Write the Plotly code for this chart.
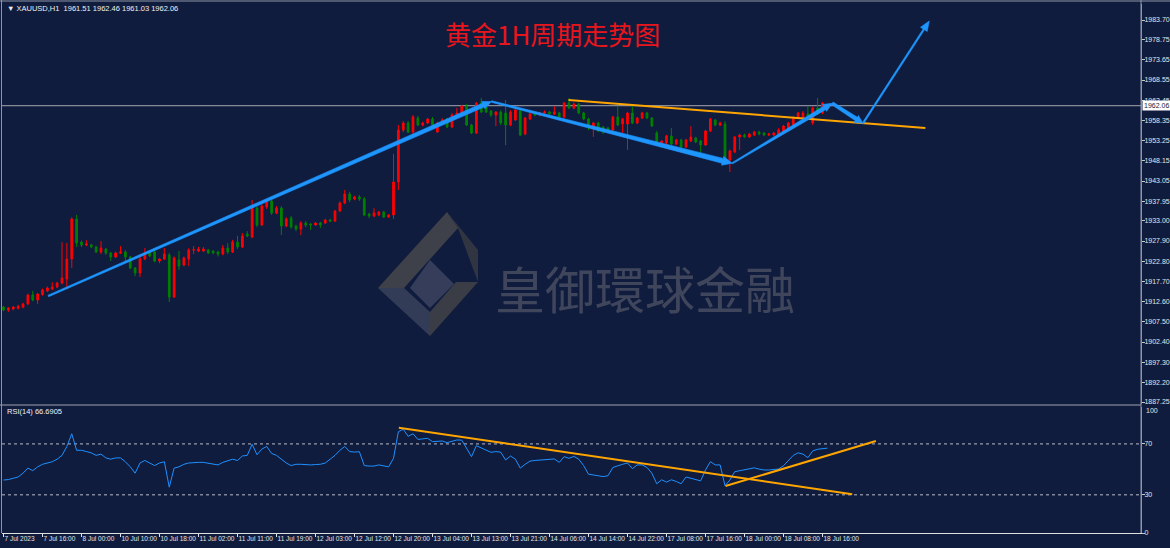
import math
import plotly.graph_objects as go

W, H = 1170, 548
BG = "#101c3e"

# ---------------- data ----------------
tick_labels = ["7 Jul 2023", "7 Jul 16:00", "8 Jul 00:00", "10 Jul 10:00", "10 Jul 18:00",
               "11 Jul 02:00", "11 Jul 11:00", "11 Jul 19:00", "12 Jul 03:00", "12 Jul 12:00",
               "12 Jul 20:00", "13 Jul 04:00", "13 Jul 13:00", "13 Jul 21:00", "14 Jul 06:00",
               "14 Jul 14:00", "14 Jul 22:00", "17 Jul 08:00", "17 Jul 16:00", "18 Jul 00:00",
               "18 Jul 08:00", "18 Jul 16:00"]

price_ticks = [1983.70, 1978.75, 1973.65, 1968.55, 1963.45, 1958.35, 1953.25, 1948.15,
               1943.05, 1937.95, 1933.00, 1927.90, 1922.80, 1917.70, 1912.60, 1907.50,
               1902.40, 1897.30, 1892.20, 1887.25]

bar_open = [1911.23, 1910.48, 1910.70, 1910.90, 1911.20, 1912.00, 1914.26, 1913.00, 1914.40, 1915.30,
            1915.80, 1916.30, 1917.29, 1918.30, 1923.35, 1933.45, 1927.65, 1926.90, 1926.89, 1926.38,
            1925.12, 1925.88, 1924.87, 1923.86, 1924.87, 1925.12, 1923.86, 1921.08, 1919.82, 1923.35,
            1924.87, 1925.12, 1922.85, 1923.35, 1924.36, 1913.76, 1923.10, 1921.84, 1923.35, 1925.63,
            1925.37, 1925.37, 1925.63, 1925.37, 1925.12, 1924.62, 1926.13, 1925.12, 1927.65, 1926.38,
            1929.67, 1928.91, 1936.23, 1931.94, 1936.48, 1938.00, 1934.97, 1936.23, 1931.69, 1933.71,
            1931.69, 1930.93, 1932.44, 1932.19, 1931.94, 1932.44, 1932.44, 1933.20, 1932.95, 1935.47,
            1937.49, 1939.77, 1938.51, 1939.01, 1938.51, 1934.72, 1934.21, 1934.46, 1935.22, 1933.96,
            1934.46, 1942.80, 1955.93, 1957.69, 1955.42, 1958.96, 1957.19, 1957.69, 1958.70, 1955.42,
            1957.69, 1958.70, 1956.68, 1959.21, 1960.22, 1961.98, 1957.19, 1955.17, 1962.74, 1961.73,
            1960.72, 1959.71, 1960.47, 1960.22, 1957.19, 1958.45, 1960.72, 1954.92, 1958.70, 1960.22,
            1959.71, 1960.22, 1960.47, 1959.97, 1960.22, 1959.21, 1962.74, 1961.48, 1962.49, 1960.22,
            1958.70, 1956.43, 1957.69, 1956.68, 1956.43, 1955.93, 1959.21, 1957.44, 1957.44, 1960.22,
            1957.69, 1958.96, 1960.22, 1958.96, 1955.17, 1952.65, 1952.65, 1954.41, 1952.39, 1953.40,
            1951.63, 1953.15, 1953.91, 1953.15, 1952.14, 1955.67, 1958.45, 1957.19, 1957.44, 1948.35,
            1950.37, 1954.16, 1954.66, 1954.16, 1954.66, 1955.42, 1955.17, 1954.66, 1954.66, 1954.92,
            1955.17, 1955.93, 1957.19, 1958.96, 1959.21, 1959.97, 1957.69, 1961.48, 1960.22, 1961.51]

bar_high = [1911.50, 1911.20, 1911.50, 1911.80, 1912.30, 1914.60, 1915.30, 1914.80, 1915.90, 1916.40,
            1917.50, 1917.60, 1927.60, 1927.40, 1933.90, 1934.50, 1928.00, 1928.10, 1927.20, 1926.70,
            1927.90, 1926.10, 1925.10, 1925.20, 1926.60, 1925.60, 1924.10, 1921.30, 1924.60, 1926.10,
            1925.10, 1925.90, 1923.60, 1926.10, 1924.90, 1924.00, 1925.40, 1924.00, 1926.10, 1926.60,
            1926.40, 1926.40, 1925.90, 1925.60, 1925.40, 1926.90, 1927.40, 1928.20, 1929.20, 1929.90,
            1930.40, 1938.25, 1936.70, 1937.20, 1938.50, 1938.80, 1936.70, 1936.70, 1933.90, 1934.20,
            1932.00, 1932.90, 1932.90, 1932.40, 1932.70, 1932.70, 1933.50, 1933.50, 1935.70, 1937.90,
            1940.80, 1940.30, 1939.30, 1939.50, 1939.00, 1935.00, 1936.20, 1935.50, 1935.50, 1934.70,
            1949.90, 1957.20, 1958.20, 1958.20, 1959.70, 1959.50, 1958.00, 1959.00, 1959.20, 1958.00,
            1958.90, 1959.00, 1960.20, 1961.50, 1962.30, 1962.50, 1957.50, 1963.00, 1964.00, 1962.00,
            1961.00, 1960.70, 1960.90, 1963.50, 1960.90, 1961.50, 1961.00, 1959.20, 1960.30, 1960.50,
            1960.50, 1960.90, 1960.70, 1961.90, 1960.50, 1963.00, 1964.00, 1962.80, 1962.80, 1960.50,
            1959.00, 1958.00, 1958.00, 1956.90, 1956.70, 1959.50, 1961.98, 1959.00, 1960.50, 1961.98,
            1959.20, 1960.50, 1960.50, 1959.20, 1955.70, 1953.40, 1954.70, 1956.40, 1953.70, 1953.70,
            1953.70, 1956.90, 1954.20, 1953.40, 1956.00, 1959.00, 1958.70, 1958.00, 1958.20, 1951.00,
            1954.40, 1955.00, 1955.00, 1955.20, 1955.70, 1955.70, 1955.40, 1955.20, 1955.40, 1956.40,
            1957.20, 1958.00, 1959.50, 1960.50, 1960.70, 1962.00, 1961.80, 1964.00, 1963.00, 1962.46]

bar_low = [1910.20, 1910.00, 1910.40, 1910.60, 1910.90, 1911.70, 1912.70, 1912.00, 1914.10, 1915.00,
           1915.50, 1916.00, 1917.00, 1915.80, 1921.10, 1926.40, 1926.40, 1926.60, 1926.10, 1924.90,
           1924.60, 1924.40, 1922.85, 1923.60, 1924.60, 1922.60, 1920.80, 1919.00, 1918.80, 1923.10,
           1923.80, 1922.50, 1922.30, 1923.10, 1912.50, 1913.50, 1920.60, 1921.50, 1921.60, 1924.60,
           1925.10, 1925.10, 1924.60, 1924.60, 1924.00, 1924.30, 1924.60, 1924.90, 1925.90, 1926.10,
           1928.90, 1928.60, 1931.40, 1931.70, 1936.00, 1934.50, 1934.70, 1929.40, 1931.40, 1931.00,
           1930.40, 1929.40, 1931.40, 1930.70, 1931.70, 1931.20, 1932.20, 1932.70, 1932.70, 1935.20,
           1937.20, 1937.70, 1938.20, 1938.00, 1934.20, 1933.70, 1933.90, 1934.20, 1933.70, 1933.70,
           1933.45, 1940.78, 1955.40, 1955.20, 1954.90, 1956.90, 1956.90, 1957.40, 1956.90, 1955.20,
           1957.20, 1956.40, 1956.40, 1958.90, 1959.90, 1956.90, 1954.90, 1954.90, 1960.20, 1960.20,
           1959.20, 1956.90, 1957.20, 1952.10, 1956.90, 1958.20, 1954.40, 1954.60, 1958.40, 1959.40,
           1959.40, 1959.90, 1959.70, 1959.70, 1958.90, 1958.90, 1961.20, 1961.20, 1959.90, 1958.40,
           1955.90, 1954.20, 1955.40, 1954.90, 1955.40, 1955.70, 1956.90, 1955.20, 1950.90, 1957.40,
           1957.40, 1958.70, 1958.70, 1956.70, 1952.40, 1952.40, 1951.60, 1952.10, 1952.10, 1951.40,
           1951.40, 1952.90, 1952.60, 1950.10, 1951.90, 1955.40, 1956.90, 1956.90, 1948.10, 1945.30,
           1950.10, 1950.90, 1953.90, 1953.90, 1954.40, 1954.60, 1954.40, 1954.40, 1954.40, 1954.70,
           1954.90, 1955.70, 1956.90, 1958.70, 1958.90, 1958.90, 1957.20, 1959.70, 1959.90, 1961.03]

bar_close = [1910.48, 1910.98, 1911.23, 1911.40, 1912.00, 1914.26, 1913.00, 1914.51, 1915.52, 1916.03,
             1916.28, 1917.29, 1918.56, 1923.35, 1933.45, 1927.39, 1926.89, 1927.14, 1926.38, 1925.12,
             1926.13, 1924.87, 1923.86, 1924.87, 1925.12, 1923.86, 1921.08, 1919.82, 1923.35, 1924.87,
             1924.11, 1922.85, 1923.35, 1924.62, 1913.76, 1923.61, 1921.59, 1923.61, 1925.63, 1925.66,
             1925.88, 1925.88, 1924.87, 1924.87, 1924.62, 1926.13, 1925.12, 1927.65, 1926.38, 1929.16,
             1929.16, 1936.48, 1931.94, 1936.74, 1937.75, 1934.97, 1936.23, 1931.69, 1933.45, 1931.43,
             1930.93, 1932.44, 1931.94, 1931.94, 1932.44, 1931.94, 1933.20, 1932.95, 1935.47, 1937.49,
             1939.77, 1938.25, 1939.01, 1938.51, 1934.46, 1934.21, 1934.97, 1935.22, 1933.96, 1934.46,
             1942.80, 1955.93, 1957.69, 1955.42, 1959.21, 1957.19, 1957.69, 1958.70, 1957.19, 1957.69,
             1958.45, 1956.68, 1959.71, 1960.22, 1961.98, 1957.19, 1955.17, 1962.74, 1960.47, 1960.47,
             1959.71, 1960.47, 1957.69, 1957.19, 1960.47, 1960.98, 1954.66, 1958.96, 1959.97, 1959.71,
             1960.22, 1960.47, 1960.00, 1960.47, 1959.21, 1962.74, 1961.48, 1962.49, 1960.22, 1958.70,
             1957.19, 1957.69, 1955.67, 1955.42, 1955.93, 1959.21, 1957.19, 1958.70, 1960.22, 1957.69,
             1958.96, 1960.22, 1958.96, 1956.94, 1952.65, 1953.15, 1954.41, 1952.39, 1953.40, 1951.63,
             1953.40, 1954.16, 1952.90, 1952.14, 1955.67, 1958.70, 1957.19, 1957.69, 1948.35, 1950.63,
             1954.16, 1954.66, 1954.20, 1954.92, 1955.42, 1954.92, 1954.66, 1954.92, 1955.17, 1955.93,
             1956.94, 1957.69, 1958.96, 1960.22, 1960.22, 1959.21, 1961.48, 1959.97, 1962.74, 1962.06]

rsi_values = [41.6, 42.0, 43.0, 44.0, 47.0, 51.0, 49.0, 52.0, 54.0, 55.0,
              56.0, 58.0, 61.0, 68.0, 78.0, 65.0, 65.0, 64.0, 63.0, 61.0,
              62.0, 59.0, 58.0, 59.0, 59.0, 56.0, 52.0, 47.0, 55.0, 57.0,
              55.0, 53.0, 55.0, 56.0, 36.0, 51.0, 52.0, 54.0, 55.0, 55.5,
              55.5, 55.5, 54.8, 54.0, 53.5, 55.5, 57.0, 58.0, 57.0, 60.5,
              61.0, 69.7, 61.5, 66.0, 68.0, 62.5, 61.0, 58.0, 55.0, 53.0,
              54.0, 54.0, 53.5, 53.5, 53.8, 54.0, 55.0, 58.0, 61.0, 65.0,
              68.0, 64.0, 63.6, 63.9, 53.0, 52.6, 52.6, 53.5, 53.0, 52.0,
              58.7, 79.6, 81.5, 76.0, 78.0, 73.5, 74.0, 74.4, 71.8, 72.0,
              72.3, 71.0, 72.0, 73.1, 73.0, 66.5, 60.0, 68.6, 67.0, 65.5,
              63.4, 64.0, 63.5, 57.4, 60.5, 58.0, 51.0, 54.0, 56.5, 57.0,
              57.2, 57.5, 57.8, 58.2, 55.5, 60.0, 58.7, 60.2, 58.0, 53.0,
              46.2, 45.8, 45.0, 44.3, 45.0, 51.5, 53.0, 54.0, 55.0, 50.6,
              53.5, 53.5, 51.5, 47.0, 38.7, 41.8, 40.0, 41.8, 40.5, 38.7,
              44.0, 43.0, 42.0, 41.0, 49.5, 56.1, 53.5, 53.5, 37.2, 41.6,
              48.2, 48.8, 49.5, 50.3, 51.2, 50.2, 49.5, 49.5, 49.8, 50.3,
              52.9, 57.0, 61.0, 63.0, 62.0, 59.2, 64.5, 65.8, 66.2, 66.69]

last_price = 1962.06
rsi_levels = [70, 30]

# user-drawn objects (bar index, price)
blue_arrows = [  # (bar0, price0, bar1, price1, width0_px, width1_px, head_len_px, head_half_px)
    (9.2, 1914.02, 100.1, 1963.12, 1.6, 4.2, 9, 4.0),
    (100.1, 1963.12, 149.5, 1947.52, 1.6, 5.0, 10, 4.5),
    (149.5, 1947.52, 170.0, 1962.67, 1.3, 4.0, 9, 4.0),
    (170.0, 1962.67, 176.3, 1957.62, 3.0, 4.0, 8, 4.0),
    (176.3, 1957.62, 189.9, 1983.45, 1.6, 1.6, 10, 4.0),
]
orange_price_line = (115.9, 1963.50, 189.1, 1956.43)
orange_rsi_lines = [(81.1, 82.75, 174.1, 30.4), (148.1, 36.9, 178.95, 72.3)]

# ---------------- geometry ----------------
PX_L, PX_R = 2, 1141
MAIN_T, MAIN_B = 4, 404
RSI_T, RSI_B = 407, 533
BAR_PX = 4.875
X0_PX = 3.5
x_lo = (PX_L - X0_PX) / BAR_PX
x_hi = (PX_R - X0_PX) / BAR_PX
P_TOP_Y, P_BOT_Y = 20, 402
sy = (P_BOT_Y - P_TOP_Y) / (price_ticks[0] - price_ticks[-1])
y_hi = price_ticks[0] + (P_TOP_Y - MAIN_T) / sy
y_lo = price_ticks[-1] - (MAIN_B - P_BOT_Y) / sy
RSI_PX = 1.2725
rsi_hi = (RSI_B - RSI_T) / RSI_PX


def to_px(b, p):
    return PX_L + (b - x_lo) * BAR_PX, MAIN_T + (y_hi - p) * sy


def to_data(px, py):
    return x_lo + (px - PX_L) / BAR_PX, y_hi - (py - MAIN_T) / sy


def arrow_poly(b0, p0, b1, p1, w0, w1, hl, hw):
    x0, y0 = to_px(b0, p0)
    x1, y1 = to_px(b1, p1)
    dx, dy = x1 - x0, y1 - y0
    L = math.hypot(dx, dy)
    ux, uy = dx / L, dy / L
    nx, ny = -uy, ux
    bx, by = x1 - ux * hl, y1 - uy * hl
    pts = [(x0 + nx * w0 / 2, y0 + ny * w0 / 2), (bx + nx * w1 / 2, by + ny * w1 / 2),
           (bx + nx * hw, by + ny * hw), (x1, y1), (bx - nx * hw, by - ny * hw),
           (bx - nx * w1 / 2, by - ny * w1 / 2), (x0 - nx * w0 / 2, y0 - ny * w0 / 2)]
    d = [to_data(a, b) for a, b in pts]
    d.append(d[0])
    return [q[0] for q in d], [q[1] for q in d]


bars = list(range(len(bar_close)))

fig = go.Figure()

fig.add_trace(go.Candlestick(
    x=bars, open=bar_open, high=bar_high, low=bar_low, close=bar_close,
    increasing=dict(line=dict(color="#ff0000", width=1), fillcolor="#ff0000"),
    decreasing=dict(line=dict(color="#008000", width=1), fillcolor="#008000"),
    whiskerwidth=0, xaxis="x", yaxis="y", hoverinfo="skip", showlegend=False))

# orange resistance line on price
fig.add_trace(go.Scatter(x=[orange_price_line[0], orange_price_line[2]],
                         y=[orange_price_line[1], orange_price_line[3]],
                         mode="lines", line=dict(color="#ffa500", width=2),
                         hoverinfo="skip", showlegend=False))

for a in blue_arrows:
    xs, ys = arrow_poly(*a)
    fig.add_trace(go.Scatter(x=xs, y=ys, mode="lines", fill="toself",
                             fillcolor="#1e96ff", line=dict(color="#1e96ff", width=0.6),
                             hoverinfo="skip", showlegend=False))

fig.add_trace(go.Scatter(x=bars, y=rsi_values, mode="lines", xaxis="x", yaxis="y2",
                         line=dict(color="#1e90ff", width=1), hoverinfo="skip", showlegend=False))

for l in orange_rsi_lines:
    fig.add_trace(go.Scatter(x=[l[0], l[2]], y=[l[1], l[3]], mode="lines", yaxis="y2",
                             line=dict(color="#ffa500", width=2), hoverinfo="skip",
                             showlegend=False))

AX_FONT = dict(family="Liberation Sans Narrow, Liberation Sans, Arial", size=6.5, color="#e4e4e4")
Y_FONT = dict(family="Liberation Sans, Arial", size=7, color="#e4e4e4")

fig.update_layout(
    width=W, height=H, autosize=False,
    margin=dict(l=0, r=0, t=0, b=0, pad=0),
    paper_bgcolor=BG, plot_bgcolor=BG,
    template="none", showlegend=False, boxgap=0.5,
    xaxis=dict(domain=[PX_L / W, PX_R / W], range=[x_lo, x_hi], anchor="y2",
               showgrid=False, zeroline=False, showline=True, linecolor="#e0e0e0", linewidth=1,
               ticks="outside", ticklen=3, tickcolor="#e0e0e0", tickangle=0,
               tickvals=[i * 8 for i in range(len(tick_labels))], ticktext=tick_labels,
               tickfont=AX_FONT, ticklabelposition="outside right", ticklabelstandoff=-1,
               rangeslider=dict(visible=False), automargin=False, fixedrange=True),
    yaxis=dict(domain=[(H - MAIN_B) / H, (H - MAIN_T) / H], range=[y_lo, y_hi],
               side="right", anchor="x", showgrid=False, zeroline=False,
               showline=True, linecolor="#9096a8", ticks="outside", ticklen=3,
               tickcolor="#c8c8c8", tickvals=price_ticks, ticklabelstandoff=-2,
               ticktext=["%.2f" % v for v in price_ticks], tickfont=Y_FONT,
               automargin=False),
    yaxis2=dict(domain=[(H - RSI_B) / H, (H - RSI_T) / H], range=[0, rsi_hi],
                side="right", anchor="x", showgrid=False, zeroline=False,
                showline=True, linecolor="#9096a8", ticks="outside", ticklen=3,
                tickcolor="#c8c8c8", tickvals=[0, 30, 70], ticktext=["0", "30", "70"],
                ticklabelstandoff=-2, tickfont=Y_FONT, automargin=False),
)

shapes = []
# current price line
shapes.append(dict(type="line", xref="x domain", yref="y", x0=0, x1=1, y0=last_price, y1=last_price,
                   line=dict(color="#a8a8b0", width=1), layer="below"))
for lv in rsi_levels:
    shapes.append(dict(type="line", xref="x domain", yref="y2", x0=0, x1=1, y0=lv, y1=lv,
                       line=dict(color="#b8bcc8", width=1, dash="dot"), layer="below"))
# frame lines
shapes.append(dict(type="line", xref="paper", yref="paper", x0=0, x1=PX_R / W,
                   y0=(H - 405) / H, y1=(H - 405) / H, line=dict(color="#9ea3b0", width=1)))
shapes.append(dict(type="line", xref="paper", yref="paper", x0=1.5 / W, x1=1.5 / W,
                   y0=(H - RSI_B) / H, y1=1, line=dict(color="#8f95a5", width=1)))
shapes.append(dict(type="line", xref="paper", yref="paper", x0=0, x1=1,
                   y0=(H - 1) / H, y1=(H - 1) / H, line=dict(color="#8f95a5", width=1)))
shapes.append(dict(type="line", xref="paper", yref="paper", x0=PX_R / W, x1=PX_R / W,
                   y0=(H - RSI_B) / H, y1=1, line=dict(color="#9096a8", width=1)))


def ppath(pts):
    s = "M " + " L ".join("%.5f %.5f" % (x / W, 1 - y / H) for x, y in pts) + " Z"
    return s


logo_parts = [
    ([(447, 212), (378, 288), (404, 288), (458, 228)], "rgba(72,72,76,0.85)"),
    ([(447, 212), (478, 250), (478, 282), (458, 228)], "rgba(58,60,68,0.8)"),
    ([(378, 288), (430, 336), (430, 312), (404, 288)], "rgba(58,66,92,0.85)"),
    ([(430, 336), (478, 282), (456, 282), (430, 312)], "rgba(66,66,72,0.85)"),
    ([(430, 260), (454, 284), (430, 308), (410, 288)], "rgba(62,70,98,0.8)"),
]
for pts, col in logo_parts:
    shapes.append(dict(type="path", xref="paper", yref="paper", path=ppath(pts),
                       fillcolor=col, line=dict(width=0), layer="below"))

fig.update_layout(shapes=shapes)

ann = []
ann.append(dict(xref="paper", yref="paper", x=5 / W, y=1 - 9 / H, xanchor="left", yanchor="middle",
                text="▼ XAUUSD,H1  1961.51 1962.46 1961.03 1962.06", showarrow=False,
                font=dict(family="Liberation Sans, Arial", size=7.5, color="#f0f0f0")))
ann.append(dict(xref="paper", yref="paper", x=5 / W, y=1 - 411 / H, xanchor="left", yanchor="middle",
                text="RSI(14) 66.6905", showarrow=False,
                font=dict(family="Liberation Sans, Arial", size=7.5, color="#f0f0f0")))
ann.append(dict(xref="paper", yref="paper", x=552 / W, y=1 - 34 / H, xanchor="center",
                yanchor="middle", text="黄金1H周期走势图", showarrow=False,
                font=dict(family="Noto Sans CJK SC", size=26, color="#e8161c")))
ann.append(dict(xref="paper", yref="paper", x=645 / W, y=1 - 287 / H, xanchor="center",
                yanchor="middle", text="皇御環球金融", showarrow=False,
                font=dict(family="Noto Sans CJK TC", size=50, color="rgba(95,98,112,0.6)")))
ann.append(dict(xref="paper", yref="y", x=(PX_R + 1) / W, y=last_price, xanchor="left",
                yanchor="middle", text="1962.06", showarrow=False, bgcolor="#ffffff",
                borderpad=1, font=dict(family="Liberation Sans, Arial", size=7, color=BG)))
ann.append(dict(xref="paper", yref="paper", x=(PX_R + 3) / W, y=1 - 410 / H, xanchor="left",
                yanchor="middle", text="100", showarrow=False,
                font=dict(family="Liberation Sans, Arial", size=7, color="#e4e4e4")))
fig.update_layout(annotations=ann)

fig.write_html("out.html")
